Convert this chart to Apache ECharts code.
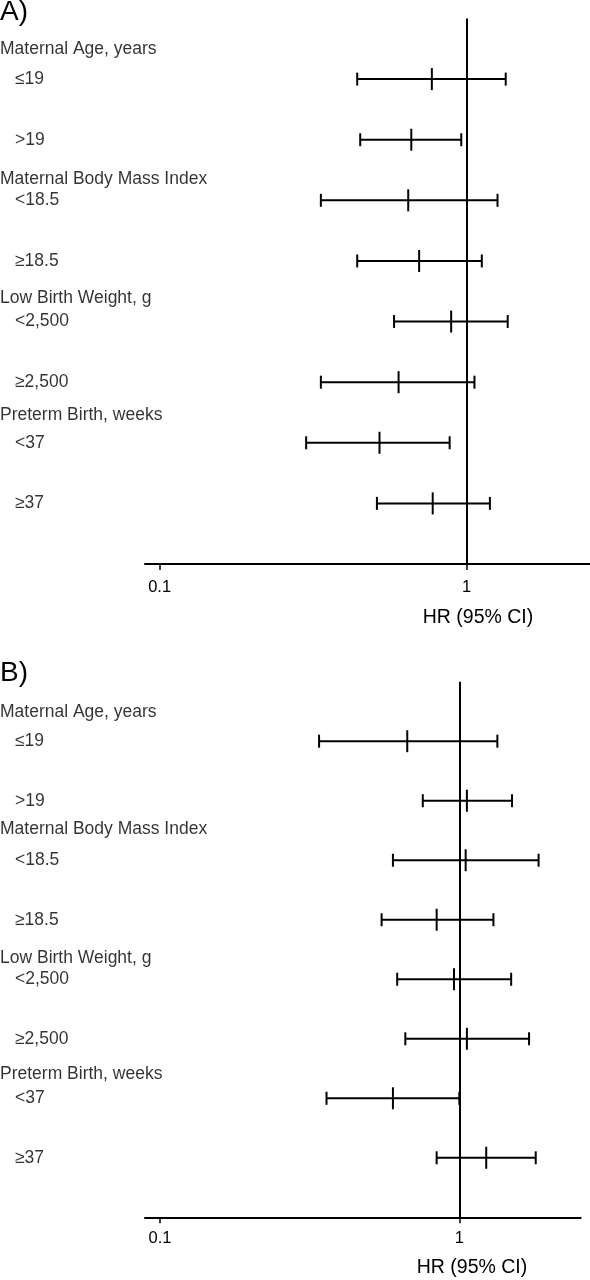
<!DOCTYPE html>
<html>
<head>
<meta charset="utf-8">
<script src="https://cdn.jsdelivr.net/npm/echarts@6/dist/echarts.min.js"></script>
<style>
html,body{margin:0;padding:0;background:#fff;}
#c{width:590px;height:1280px;}
</style>
</head>
<body>
<div id="c"></div>
<script>
// ---------- data ----------
const panelTitles = ["A)", "B)"];
const groupLabels = ["Maternal Age, years", "Maternal Body Mass Index", "Low Birth Weight, g", "Preterm Birth, weeks"];
const groupFirstRow = [1, 3, 5, 7];
const subgroupLabels = ["≤19", ">19", "<18.5", "≥18.5", "<2,500", "≥2,500", "<37", "≥37"];
const xTickValues = [0.1, 1];
const xTickLabels = ["0.1", "1"];
const axisTitle = "HR (95% CI)";

const hrA = [0.77, 0.66, 0.645, 0.70, 0.89, 0.60, 0.52, 0.775];
const loA = [0.44, 0.45, 0.335, 0.44, 0.58, 0.335, 0.30, 0.51];
const hiA = [1.34, 0.96, 1.26, 1.12, 1.36, 1.06, 0.88, 1.19];

const hrB = [0.67, 1.06, 1.05, 0.84, 0.96, 1.06, 0.60, 1.23];
const loB = [0.34, 0.755, 0.60, 0.55, 0.62, 0.66, 0.36, 0.84];
const hiB = [1.34, 1.50, 1.84, 1.30, 1.49, 1.71, 1.00, 1.80];

// ---------- layout / style ----------
const FONT = "'Liberation Sans', Arial, Helvetica, sans-serif";
const INK = '#000';
const panels = [
  { hr: hrA, lo: loA, hi: hiA,
    grid: { left: 145, top: 18.5, width: 445, height: 545.5 },
    xMin: 0.0896, xMax: 2.521, headerOffsets: [0.5, 0.35, 0.39, 0.46],
    labelMargin: 15, titleY: 12, axisTitleX: 478, axisTitleY: 618 },
  { hr: hrB, lo: loB, hi: hiB,
    grid: { left: 145, top: 681.7, width: 435.7, height: 535.6 },
    xMin: 0.0891, xMax: 2.544, headerOffsets: [0.48, 0.52, 0.36, 0.40],
    labelMargin: 13, titleY: 673, axisTitleX: 472, axisTitleY: 1268 }
];

const grids = [], xAxes = [], yAxes = [], series = [], graphics = [];

panels.forEach((p, k) => {
  grids.push(Object.assign({ containLabel: false }, p.grid));
  xAxes.push({
    type: 'log', logBase: 10, gridIndex: k, min: p.xMin, max: p.xMax,
    axisLine: { show: true, onZero: false, lineStyle: { color: INK, width: 2 } },
    axisTick: { show: true, customValues: xTickValues, length: 6, inside: false,
                lineStyle: { color: INK, width: 1.5 } },
    axisLabel: { show: true, customValues: xTickValues, margin: p.labelMargin,
                 color: INK, fontSize: 16.5, fontFamily: FONT,
                 formatter: v => { const i = xTickValues.findIndex(t => Math.abs(t - v) < 1e-9); return i >= 0 ? xTickLabels[i] : ''; } },
    splitLine: { show: false }, minorTick: { show: false }
  });
  yAxes.push({ type: 'value', gridIndex: k, min: 0, max: 9, inverse: true, show: false });

  // error bars
  series.push({
    type: 'custom', xAxisIndex: k, yAxisIndex: k, clip: false,
    data: p.hr.map((v, i) => [p.lo[i], v, p.hi[i], i + 1]),
    encode: { x: [0, 1, 2], y: 3 },
    renderItem: (params, api) => {
      const y = api.value(3);
      const pl = api.coord([api.value(0), y]);
      const pc = api.coord([api.value(1), y]);
      const pr = api.coord([api.value(2), y]);
      const cap = 6.5, tick = 11;
      const st = { stroke: INK, lineWidth: 2 };
      return { type: 'group', children: [
        { type: 'line', shape: { x1: pl[0], y1: pl[1], x2: pr[0], y2: pr[1] }, style: st },
        { type: 'line', shape: { x1: pl[0], y1: pl[1] - cap, x2: pl[0], y2: pl[1] + cap }, style: st },
        { type: 'line', shape: { x1: pr[0], y1: pr[1] - cap, x2: pr[0], y2: pr[1] + cap }, style: st },
        { type: 'line', shape: { x1: pc[0], y1: pc[1] - tick, x2: pc[0], y2: pc[1] + tick }, style: st }
      ]};
    },
    markLine: { silent: true, symbol: 'none', label: { show: false },
                lineStyle: { color: INK, width: 2, type: 'solid' },
                data: [{ xAxis: 1 }] }
  });

  // subgroup labels
  series.push({
    type: 'scatter', xAxisIndex: k, yAxisIndex: k, clip: false, symbolSize: 0, silent: true,
    data: subgroupLabels.map((t, i) => [p.xMin, i + 1, t]),
    label: { show: true, position: [-(p.grid.left - 15), 0], align: 'left', verticalAlign: 'middle',
             formatter: d => d.value[2], color: INK, fontSize: 17.5, fontFamily: FONT }
  });
  // group headers
  series.push({
    type: 'scatter', xAxisIndex: k, yAxisIndex: k, clip: false, symbolSize: 0, silent: true,
    data: groupLabels.map((t, j) => [p.xMin, groupFirstRow[j] - p.headerOffsets[j], t]),
    label: { show: true, position: [-p.grid.left, 0], align: 'left', verticalAlign: 'middle',
             formatter: d => d.value[2], color: INK, fontSize: 17.5, fontFamily: FONT }
  });

  graphics.push({ type: 'text', left: 0, top: p.titleY - 14,
    style: { text: panelTitles[k], fill: INK, fontSize: 28, fontFamily: FONT } });
  graphics.push({ type: 'text', x: p.axisTitleX, y: p.axisTitleY,
    style: { text: axisTitle, fill: INK, fontSize: 19.5, fontFamily: FONT, align: 'center', verticalAlign: 'middle' } });
});

const chart = echarts.init(document.getElementById('c'), null, { renderer: 'canvas' });
chart.setOption({
  animation: false,
  backgroundColor: '#fff',
  grid: grids, xAxis: xAxes, yAxis: yAxes, series: series,
  graphic: { elements: graphics }
});
</script>
</body>
</html>
